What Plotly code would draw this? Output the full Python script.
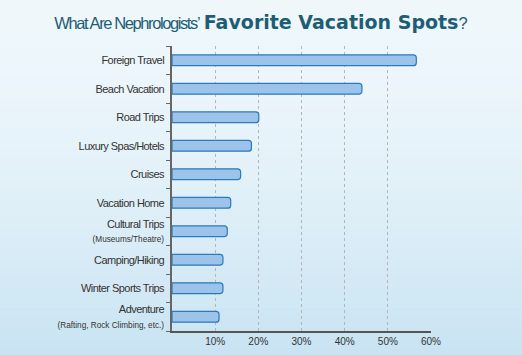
import plotly.graph_objects as go

categories = [
    "Foreign Travel",
    "Beach Vacation",
    "Road Trips",
    "Luxury Spas/Hotels",
    "Cruises",
    "Vacation Home",
    "Cultural Trips<br><span style='font-size:8.2px;letter-spacing:0px'>(Museums/Theatre)</span>",
    "Camping/Hiking",
    "Winter Sports Trips",
    "Adventure<br><span style='font-size:8.2px;letter-spacing:0px'>(Rafting, Rock Climbing, etc.)</span>",
]
values = [56.6, 44.0, 20.1, 18.4, 15.9, 13.6, 12.8, 11.8, 11.8, 10.9]
tick_vals = [10, 20, 30, 40, 50, 60]
tick_text = ["10%", "20%", "30%", "40%", "50%", "60%"]

FONT = "Liberation Sans, Arial"

# condensed look for category labels (style only)
cat_text = ["<span style='letter-spacing:-0.55px'>%s</span>" % c for c in categories]

fig = go.Figure()
fig.add_trace(go.Bar(
    x=values,
    y=categories,
    orientation="h",
    width=0.38,
    marker=dict(color="#9cc3e9", line=dict(color="#2b7bbb", width=1.2)),
    hoverinfo="skip",
))

# background gradient bands
shapes = []
n = 40
top = (240, 248, 252)
bot = (196, 225, 242)
for i in range(n):
    t = i / (n - 1)
    c = tuple(int(top[k] + (bot[k] - top[k]) * t ** 1.6) for k in range(3))
    shapes.append(dict(
        type="rect", xref="paper", yref="paper",
        x0=-1, x1=2, y0=1.2 - (i + 1) * (1.4 / n), y1=1.2 - i * (1.4 / n) + 0.001,
        fillcolor="rgb(%d,%d,%d)" % c, line=dict(width=0), layer="below",
    ))

fig.update_layout(
    width=522, height=355, autosize=False,
    margin=dict(l=172, r=91, t=46, b=24),
    paper_bgcolor="#e6f2f9",
    plot_bgcolor="rgba(0,0,0,0)",
    barcornerradius=3,
    shapes=shapes,
    showlegend=False,
    title=dict(
        text="<span style='letter-spacing:-1.4px'>What Are Nephrologists’</span> "
             "<span style='font-family:\"DejaVu Sans\";font-weight:bold;font-size:19px'>Favorite Vacation Spots</span>?",
        x=261 / 522, xref="container", xanchor="center",
        y=1 - 23 / 355, yanchor="middle",
        font=dict(family=FONT, size=16.5, color="#1d5e74"),
    ),
    font=dict(family=FONT, size=11, color="#333333"),
)

fig.update_xaxes(
    range=[0, 60],
    tickvals=tick_vals, ticktext=tick_text,
    showgrid=True, gridcolor="#b5b5b5", griddash="dot", gridwidth=1,
    showline=True, linecolor="#555555", linewidth=1.5,
    ticks="", tickfont=dict(family=FONT, size=10, color="#333333"),
    zeroline=False, fixedrange=True, automargin=False,
)
fig.update_yaxes(
    autorange="reversed",
    tickvals=categories, ticktext=cat_text,
    showline=True, linecolor="#666666", linewidth=1.5,
    ticks="outside", ticklen=4, tickcolor="#666666", tickson="boundaries",
    showgrid=False, ticklabelstandoff=4,
    tickfont=dict(family=FONT, size=11, color="#333333"),
    fixedrange=True, automargin=False,
)

fig.write_html("out.html")
